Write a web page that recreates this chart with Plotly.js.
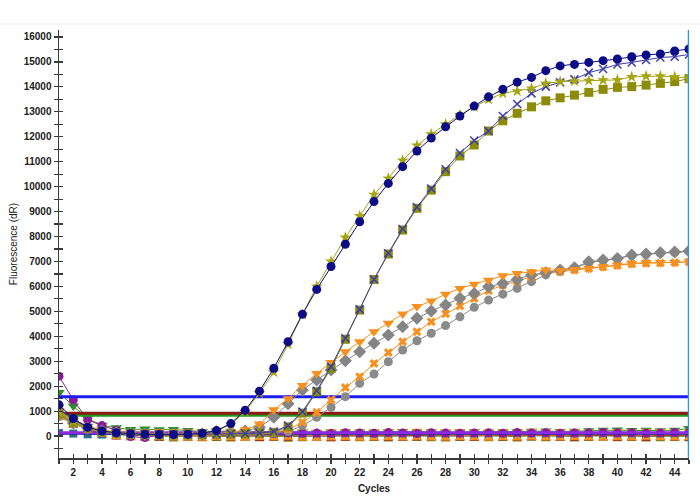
<!DOCTYPE html>
<html>
<head>
<meta charset="utf-8">
<script src="https://cdn.plot.ly/plotly-3.0.1.min.js"></script>
<style>
  html, body { margin: 0; padding: 0; background: #fff; }
  #chart { width: 700px; height: 500px; }
</style>
</head>
<body>
<div id="chart"></div>
<script>
// qPCR amplification plot: fluorescence (dR) per cycle

const cycles = [1,2,3,4,5,6,7,8,9,10,11,12,13,14,15,16,17,18,19,20,21,22,23,24,25,26,27,28,29,30,31,32,33,34,35,36,37,38,39,40,41,42,43,44,45];

// amplifying wells
const navyCircle = [1250,700,350,200,130,90,70,60,60,70,110,220,500,1030,1800,2720,3780,4880,5880,6800,7690,8590,9400,10130,10800,11430,11950,12400,12830,13230,13600,13900,14190,14380,14650,14840,14900,14980,15050,15120,15210,15280,15320,15440,15520];
const oliveStar = [950,600,320,180,120,90,70,60,60,70,110,210,460,980,1720,2560,3680,4880,6000,7000,7960,8820,9680,10330,11050,11650,12100,12500,12870,13200,13500,13740,13830,13940,14140,14210,14230,14250,14270,14280,14400,14430,14430,14400,14350];
const navyCross = [1100,650,330,190,130,90,70,60,60,60,70,80,90,100,120,180,420,980,1820,2780,3920,5080,6280,7330,8300,9180,9920,10700,11350,11850,12230,12830,13310,13740,14010,14180,14300,14570,14720,14900,14980,15080,15180,15210,15300];
const oliveSquare = [900,550,300,170,110,80,60,50,50,50,60,70,80,90,110,150,370,920,1780,2710,3880,5050,6280,7300,8260,9130,9860,10600,11230,11670,12230,12640,12940,13200,13440,13560,13670,13780,13900,13980,14010,14070,14140,14210,14330];
const orangeTri = [1000,620,380,250,160,110,90,80,70,70,80,100,140,250,480,1050,1500,2030,2510,2950,3380,3780,4180,4520,4890,5190,5410,5690,5920,6090,6250,6430,6520,6590,6660,6640,6680,6720,6790,6860,6920,6950,6950,6960,6990];
const grayUpper = [850,520,320,200,130,90,70,60,60,60,70,90,120,200,350,750,1300,1850,2250,2650,3020,3380,3720,4050,4380,4720,5010,5250,5520,5720,5990,6120,6280,6460,6550,6660,6750,6990,7060,7120,7260,7300,7350,7380,7420];
const orangeStar = [800,500,300,190,120,90,70,60,50,50,50,60,70,80,100,150,260,550,950,1450,1950,2380,2910,3350,3780,4180,4580,4900,5210,5520,5830,6050,6210,6390,6550,6590,6660,6720,6780,6840,6900,6930,6940,6960,6980];
const grayLower = [780,480,290,180,120,80,60,50,50,50,50,60,70,80,90,120,180,420,750,1150,1580,2110,2490,2980,3450,3820,4120,4430,4780,5160,5450,5690,5920,6190,6460,6640,6740,6950,7040,7110,7250,7290,7340,7370,7400];

// non-amplifying wells
const purpleBase = [2400,1450,650,420,230,-20,-60,30,60,80,50,90,100,110,120,100,130,110,120,100,130,120,110,140,120,100,130,120,110,120,130,110,140,120,130,110,120,130,140,120,130,110,120,140,130];
const greenBase = [1750,1200,700,430,330,260,280,250,260,220,180,200,170,160,180,170,150,160,140,150,170,160,150,170,180,160,170,150,160,170,150,160,170,190,200,180,190,210,230,240,220,230,210,230,300];
const orangeBase = [1000,650,420,200,100,60,40,60,50,40,30,60,50,40,60,50,70,40,30,50,60,40,50,60,40,70,50,40,60,50,40,60,50,70,50,40,60,50,40,60,50,70,60,50,60];
const redBase = [850,550,250,120,60,30,20,10,30,20,0,20,10,30,0,20,10,30,20,0,10,30,20,10,0,20,30,10,20,0,30,20,10,30,20,0,10,20,30,10,20,0,30,20,10];
const oliveBase = [900,520,260,130,70,40,20,0,-20,10,-10,0,-20,10,-10,0,-30,-10,0,-20,10,-10,0,-20,10,0,-10,-20,0,10,-10,0,-20,10,-10,0,-20,0,10,-10,0,-20,-10,0,-10];
const tealBase = [120,100,70,60,50,40,40,50,40,30,40,50,40,30,40,50,40,30,40,50,40,30,40,50,40,30,40,50,40,30,40,50,40,30,40,50,40,30,40,50,40,30,40,50,60];

// threshold levels
const thresholdBlue = 1580;
const thresholdRed = 910;
const thresholdGreen = 830;
const thresholdPurple = 130;
const thresholdNavy = 90;
const thresholdSpan = [1, 45];
const cursorCycle = 45;

const xRange = [1, 45];
const yRange = [-880, 16280];

function curve(y, color, symbol, size, extra) {
  const t = {
    x: cycles, y: y, type: 'scatter', mode: 'lines+markers',
    line: { color: color, width: 1 },
    marker: { color: color, symbol: symbol, size: size, line: { width: 0 } },
    hoverinfo: 'skip'
  };
  return Object.assign(t, extra || {});
}
function hline(level, color, width) {
  return {
    x: thresholdSpan, y: [level, level], type: 'scatter', mode: 'lines',
    line: { color: color, width: width }, hoverinfo: 'skip'
  };
}

const traces = [
  // baseline wells underneath
  curve(oliveBase, '#8c8c10', 'hourglass', 10),
  curve(redBase, '#a0301e', 'hourglass', 10),
  curve(tealBase, '#2a6f8a', 'square', 8),
  curve(greenBase, '#2f8f2f', 'triangle-down', 10),
  curve(orangeBase, '#f7901e', 'hourglass', 11),
  curve(purpleBase, '#8a1a9a', 'circle', 9),
  // thresholds
  hline(thresholdNavy, '#202080', 2),
  hline(thresholdPurple, '#8a2be2', 3),
  hline(thresholdGreen, '#1f9a1f', 3),
  hline(thresholdRed, '#8b1a10', 3),
  hline(thresholdBlue, '#1c1cf0', 3),
  // amplification curves
  curve(grayLower, '#8a8a8a', 'circle', 9),
  curve(orangeStar, '#f7901e', 'x', 8),
  curve(grayUpper, '#858585', 'diamond', 10),
  curve(orangeTri, '#f7901e', 'triangle-down', 10),
  curve(oliveSquare, '#8c8c0a', 'square', 9),
  curve(navyCross, '#3c3ca8', 'x-thin-open', 8, { marker: { color: '#3c3ca8', symbol: 'x-thin-open', size: 8, line: { color: '#3c3ca8', width: 1.5 } } }),
  curve(oliveStar, '#a5a512', 'star', 9),
  curve(navyCircle, '#0c0c86', 'circle', 9),
  // overlay axes carry the inward half of each tick
  { x: xRange, y: yRange, xaxis: 'x2', yaxis: 'y2', mode: 'markers', marker: { opacity: 0 }, hoverinfo: 'skip' }
];

const tickFont = { family: 'Liberation Sans, Arial, sans-serif', size: 10, color: '#222', weight: 'bold' };
const axisColor = '#3a3a3a';

const layout = {
  width: 700, height: 500,
  margin: { l: 59, r: 11, t: 30, b: 42 },
  paper_bgcolor: '#fff', plot_bgcolor: '#fff',
  showlegend: false,
  xaxis: {
    range: xRange, tick0: 0, dtick: 2, ticks: 'outside', ticklen: 4, tickwidth: 1.2, tickcolor: axisColor,
    minor: { dtick: 1, tick0: 0, ticks: 'outside', ticklen: 4, tickwidth: 1.2, tickcolor: axisColor },
    showline: true, linecolor: axisColor, linewidth: 1.5, showgrid: false, zeroline: false,
    tickfont: tickFont,
    title: { text: 'Cycles', font: { family: 'Liberation Sans, Arial, sans-serif', size: 10, color: '#222', weight: 'bold' }, standoff: 8 }
  },
  yaxis: {
    range: yRange, tick0: 0, dtick: 1000, tickformat: 'd', ticks: 'outside', ticklen: 4, tickwidth: 1.2, tickcolor: axisColor,
    minor: { dtick: 500, tick0: 0, ticks: 'outside', ticklen: 4, tickwidth: 1.2, tickcolor: axisColor },
    showline: true, linecolor: axisColor, linewidth: 1.5, showgrid: false, zeroline: false,
    tickfont: tickFont, ticklabelstandoff: 0,
    title: { text: 'Fluorescence (dR)', font: { family: 'Liberation Sans, Arial, sans-serif', size: 10, color: '#222' }, standoff: 4 }
  },
  xaxis2: {
    overlaying: 'x', matches: 'x', range: xRange, tick0: 0, dtick: 2, ticks: 'inside', ticklen: 4, tickwidth: 1.2, tickcolor: axisColor,
    minor: { dtick: 1, tick0: 0, ticks: 'inside', ticklen: 4, tickwidth: 1.2, tickcolor: axisColor },
    showticklabels: false, showline: false, showgrid: false, zeroline: false
  },
  yaxis2: {
    overlaying: 'y', matches: 'y', range: yRange, tick0: 0, dtick: 1000, ticks: 'inside', ticklen: 4, tickwidth: 1.2, tickcolor: axisColor,
    minor: { dtick: 500, tick0: 0, ticks: 'inside', ticklen: 4, tickwidth: 1.2, tickcolor: axisColor },
    showticklabels: false, showline: false, showgrid: false, zeroline: false
  },
  shapes: [
    // page rule above the plot
    { type: 'line', xref: 'paper', yref: 'paper', x0: -0.1, x1: 1.02, y0: 1.014, y1: 1.014, line: { color: '#ececec', width: 1 } },
    // cycle cursor
    { type: 'line', xref: 'x', yref: 'paper', x0: cursorCycle, x1: cursorCycle, y0: 0, y1: 1, line: { color: '#2b8ff0', width: 2.5 } }
  ]
};

Plotly.newPlot('chart', traces, layout, { displayModeBar: false, staticPlot: true });
</script>
</body>
</html>
